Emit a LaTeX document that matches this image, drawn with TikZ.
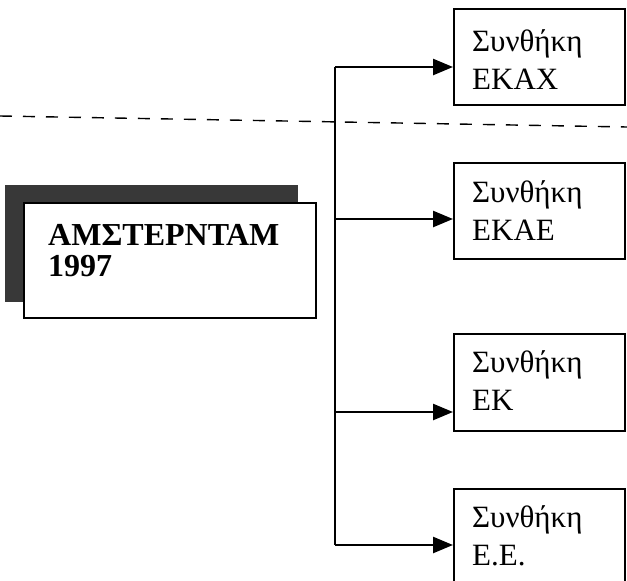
\documentclass[tikz,border=0pt]{standalone}
\usepackage{fontspec}
\setmainfont{Liberation Serif}
\usetikzlibrary{arrows.meta}

\tikzset{
    treatybox/.style={draw, line width=2.1pt, minimum width=171pt, minimum height=96pt, anchor=north west, inner sep=0pt},
    treatylbl/.style={anchor=north west, align=left, inner sep=0pt, font=\fontsize{31}{38}\selectfont},
    feed/.style={line width=2.5pt, -{Triangle[length=20pt,width=16pt]}}
}

\begin{document}
\begin{tikzpicture}[x=1pt, y=-1pt]
    \useasboundingbox (0,0) rectangle (627,581);
    \clip (0,0) rectangle (627,581);
    % Dashed divider
    \draw[line width=1.4pt, dash pattern=on 12pt off 11pt] (0,116) -- (627,127);
    % Amsterdam box with its shadow
    \fill[black!78] (5,185) rectangle (298,302);
    \node[draw, fill=white, line width=2.1pt, anchor=north west, minimum width=292pt, minimum height=115pt, inner sep=0pt] (amst) at (23,202) {};
    \node[anchor=north west, align=left, inner sep=0pt, font=\bfseries\fontsize{32}{31}\selectfont] (amstlbl) at ([shift={(25,22)}]amst.north west) {ΑΜΣΤΕΡΝΤΑΜ\\1997};
    % Treaty boxes
    \node[treatybox] (ekax) at (453,8) {};
    \node[treatybox] (ekae) at (453,162) {};
    \node[treatybox, minimum height=97pt] (ek) at (453,333) {};
    \node[treatybox, minimum height=120pt] (ee) at (453,488) {};
    \node[treatylbl] (ekaxlbl) at ([shift={(19,21)}]ekax.north west) {Συνθήκη\\ΕΚΑΧ};
    \node[treatylbl] (ekaelbl) at ([shift={(19,18)}]ekae.north west) {Συνθήκη\\ΕΚΑΕ};
    \node[treatylbl] (eklbl) at ([shift={(19,17)}]ek.north west) {Συνθήκη\\ΕΚ};
    \node[treatylbl] (eelbl) at ([shift={(19,17)}]ee.north west) {Συνθήκη\\Ε.Ε.};
    % Trunk and branches
    \coordinate (j1) at (335,67);
    \coordinate (j2) at (335,219);
    \coordinate (j3) at (335,412);
    \coordinate (j4) at (335,545);
    \draw[line width=2.8pt] (j1) -- (j4);
    \draw[feed] (j1) -- (j1 -| ekax.west);
    \draw[feed] (j2) -- (j2 -| ekae.west);
    \draw[feed] (j3) -- (j3 -| ek.west);
    \draw[feed] (j4) -- (j4 -| ee.west);
\end{tikzpicture}
\end{document}
